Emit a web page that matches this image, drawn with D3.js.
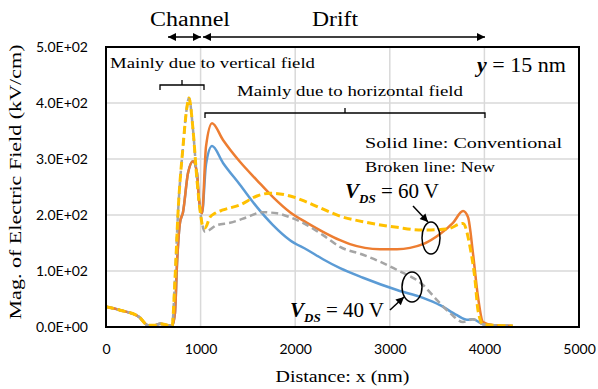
<!DOCTYPE html>
<html><head><meta charset="utf-8">
<script src="https://cdn.jsdelivr.net/npm/d3@7"></script>
<style>body{margin:0;background:#fff}svg{display:block}</style>
</head><body>
<svg id="c" width="598" height="389"></svg>
<script>
// ---- data ----
const xTicks = [0,1000,2000,3000,4000,5000];
const yTicks = [0,100,200,300,400,500];
// Conventional, VDS = 60 V (solid orange)
const conv60X = [0,150,350,444,520,571,630,698,729,751,782,814,867,920,962,983,1015,1057,1121,1237,1416,1596,1765,1945,2125,2294,2474,2579,2896,3076,3351,3531,3668,3774,3827,3879,3932,3985,4100,4300];
const conv60Y = [36,30,18,3,3,6,4,2,25,114,186,205,275,296,275,227,203,322,364,334,295,262,232,205,186,170,155,148,139,139,148,166,186,207,196,132,54,9,3,2];
// Conventional, VDS = 40 V (solid blue)
const conv40X = [0,150,350,444,520,571,630,698,729,751,782,814,867,920,962,983,1015,1057,1121,1237,1416,1596,1765,1945,2125,2294,2474,2717,3076,3351,3531,3710,3816,3879,3985,4100,4300];
const conv40Y = [36,30,18,3,3,6,4,2,25,114,186,205,275,296,275,227,203,290,323,293,254,214,182,155,138,121,105,88,66,52,39,21,13,14,5,3,2];
// New, VDS = 40 V (broken grey)
const new40X = [0,150,350,444,520,571,630,698,729,761,814,856,877,920,962,994,1047,1173,1311,1490,1649,1808,1945,2125,2294,2474,2717,3076,3351,3499,3636,3774,3879,3985,4100,4300];
const new40Y = [36,30,18,3,3,6,4,2,84,203,322,393,409,352,262,209,170,182,186,196,205,203,196,182,164,143,129,102,75,48,25,9,14,5,3,2];
// New, VDS = 60 V (broken yellow)
const new60X = [0,150,350,444,520,571,630,698,729,761,814,856,877,920,962,994,1025,1047,1099,1152,1237,1416,1596,1734,1945,2125,2368,2474,2717,3076,3351,3605,3774,3848,3901,3932,3985,4100,4300];
const new60Y = [36,30,18,3,3,6,4,2,84,203,322,393,409,352,262,209,179,177,196,203,209,218,234,239,234,223,205,198,188,178,173,175,185,143,84,30,5,3,2];

const series = [
  {x: conv40X, y: conv40Y, color: "#5B9BD5", dash: null, w: 2.5},
  {x: conv60X, y: conv60Y, color: "#ED7D31", dash: null, w: 2.5},
  {x: new40X, y: new40Y, color: "#A5A5A5", dash: "7,4", w: 2.5},
  {x: new60X, y: new60Y, color: "#FFC000", dash: "8,4", w: 3}
];

// ---- chart ----
const svg = d3.select("#c");
const L = 106, R = 579, T = 47, B = 327;
const x = d3.scaleLinear().domain([0,5000]).range([L,R]);
const y = d3.scaleLinear().domain([0,500]).range([B,T]);
const serif = "'Liberation Serif', serif";
const sans = "Lato, 'Noto Sans', sans-serif";

function expFmt(v){
  if (v === 0) return "0.0E+00";
  const e = Math.floor(Math.log10(v));
  const m = v/Math.pow(10,e);
  return m.toFixed(1)+"E+"+String(e).padStart(2,"0");
}

// grid
svg.append("g").selectAll("line").data(yTicks.slice(1)).join("line")
  .attr("x1",L).attr("x2",R).attr("y1",d=>y(d)).attr("y2",d=>y(d))
  .attr("stroke","#d9d9d9").attr("stroke-width",1.5);
svg.append("g").selectAll("line").data(xTicks.slice(1)).join("line")
  .attr("y1",T).attr("y2",B).attr("x1",d=>x(d)).attr("x2",d=>x(d))
  .attr("stroke","#d9d9d9").attr("stroke-width",1.5);

// axes (labels only)
const ya = svg.append("g").attr("transform",`translate(${L-15},0)`)
  .call(d3.axisLeft(y).tickValues(yTicks).tickFormat(expFmt).tickSize(0));
ya.select(".domain").remove();
ya.selectAll("text").attr("font-family",sans).attr("font-size",14).attr("fill","#000").attr("dx",0);
const xa = svg.append("g").attr("transform",`translate(0,${B+14})`)
  .call(d3.axisBottom(x).tickValues(xTicks).tickFormat(d3.format("d")).tickSize(0));
xa.select(".domain").remove();
xa.selectAll("text").attr("font-family",sans).attr("font-size",14).attr("fill","#000");

// lines
const line = d3.line().curve(d3.curveMonotoneX);
svg.append("defs").append("clipPath").attr("id","pc").append("rect")
  .attr("x",L).attr("y",T).attr("width",R-L).attr("height",B-T);
svg.append("g").attr("clip-path","url(#pc)").selectAll("path").data(series).join("path")
  .attr("d",s=>line(s.x.map((v,i)=>[x(v),y(s.y[i])])))
  .attr("fill","none").attr("stroke",s=>s.color).attr("stroke-width",s=>s.w)
  .attr("stroke-dasharray",s=>s.dash).attr("stroke-linejoin","round");

// frame
svg.append("rect").attr("x",L).attr("y",T).attr("width",R-L).attr("height",B-T)
  .attr("fill","none").attr("stroke","#000").attr("stroke-width",2);

// axis titles
svg.append("text").attr("x",(L+R)/2).attr("y",382).attr("text-anchor","middle")
  .attr("font-family",serif).attr("font-size",16).attr("textLength",134).attr("lengthAdjust","spacingAndGlyphs")
  .text("Distance: x (nm)");
svg.append("text").attr("transform","translate(21,182) rotate(-90)").attr("text-anchor","middle")
  .attr("font-family",serif).attr("font-size",16.5).attr("textLength",275).attr("lengthAdjust","spacingAndGlyphs")
  .text("Mag. of Electric Field  (kV/cm)");

// arrow markers
const defs = svg.select("defs");
defs.append("marker").attr("id","ah").attr("viewBox","0 0 10 10").attr("refX",10).attr("refY",5)
  .attr("markerWidth",10).attr("markerHeight",8).attr("markerUnits","userSpaceOnUse").attr("orient","auto-start-reverse")
  .append("path").attr("d","M0,0L10,5L0,10Z").attr("fill","#000");

// Channel / Drift
svg.append("text").attr("x",190).attr("y",26).attr("text-anchor","middle").attr("font-family",serif)
  .attr("font-size",20).attr("textLength",80).attr("lengthAdjust","spacingAndGlyphs").text("Channel");
svg.append("text").attr("x",335).attr("y",26).attr("text-anchor","middle").attr("font-family",serif)
  .attr("font-size",20).attr("textLength",46).attr("lengthAdjust","spacingAndGlyphs").text("Drift");
svg.append("line").attr("x1",168).attr("x2",201).attr("y1",37).attr("y2",37).attr("stroke","#000").attr("stroke-width",1.5)
  .attr("marker-start","url(#ah)").attr("marker-end","url(#ah)");
svg.append("line").attr("x1",203).attr("x2",485).attr("y1",37).attr("y2",37).attr("stroke","#000").attr("stroke-width",1.5)
  .attr("marker-start","url(#ah)").attr("marker-end","url(#ah)");

// annotations
function txt(t,xx,yy,size,len){
  const e = svg.append("text").attr("x",xx).attr("y",yy).attr("font-family",serif).attr("font-size",size).text(t);
  if (len) e.attr("textLength",len).attr("lengthAdjust","spacingAndGlyphs");
  return e;
}
txt("Mainly due to vertical field",110,68,15,205);
txt("Mainly due to horizontal field",237,96,15,226);
txt("Solid line: Conventional",365,148,15,197);
txt("Broken line: New",365,172,15,130);

// brackets
function bracket(x1,x2,yy,xm){
  svg.append("path").attr("d",`M${x1},${yy+5}V${yy}H${x2}V${yy+5}M${xm},${yy}V${yy-5}`)
    .attr("fill","none").attr("stroke","#000").attr("stroke-width",1.3);
}
bracket(160,204,85,182);
bracket(205,485,113,345);

// y = 15 nm
const yl = svg.append("text").attr("x",477).attr("y",72).attr("font-family",serif).attr("font-size",22);
yl.append("tspan").attr("font-style","italic").attr("font-weight","bold").text("y");
yl.append("tspan").text(" = 15 nm");

// VDS labels
function vds(xx,yy,val){
  const t = svg.append("text").attr("x",xx).attr("y",yy).attr("font-family",serif).attr("font-size",21);
  t.append("tspan").attr("font-style","italic").attr("font-weight","bold").text("V");
  t.append("tspan").attr("font-style","italic").attr("font-weight","bold").attr("font-size",13).attr("dy",5).text("DS");
  t.append("tspan").attr("dy",-5).text(" = "+val+" V");
}
vds(345,198,"60");
vds(290,317,"40");

// ellipses and pointers
svg.append("ellipse").attr("cx",431).attr("cy",238).attr("rx",9).attr("ry",16).attr("fill","none").attr("stroke","#000").attr("stroke-width",1.5);
svg.append("ellipse").attr("cx",412).attr("cy",287).attr("rx",10).attr("ry",15).attr("fill","none").attr("stroke","#000").attr("stroke-width",1.5);
svg.append("line").attr("x1",413).attr("y1",206).attr("x2",428).attr("y2",222).attr("stroke","#000").attr("stroke-width",1.5).attr("marker-end","url(#ah)");
svg.append("line").attr("x1",390).attr("y1",310).attr("x2",404).attr("y2",297).attr("stroke","#000").attr("stroke-width",1.5).attr("marker-end","url(#ah)");
</script>
</body></html>
